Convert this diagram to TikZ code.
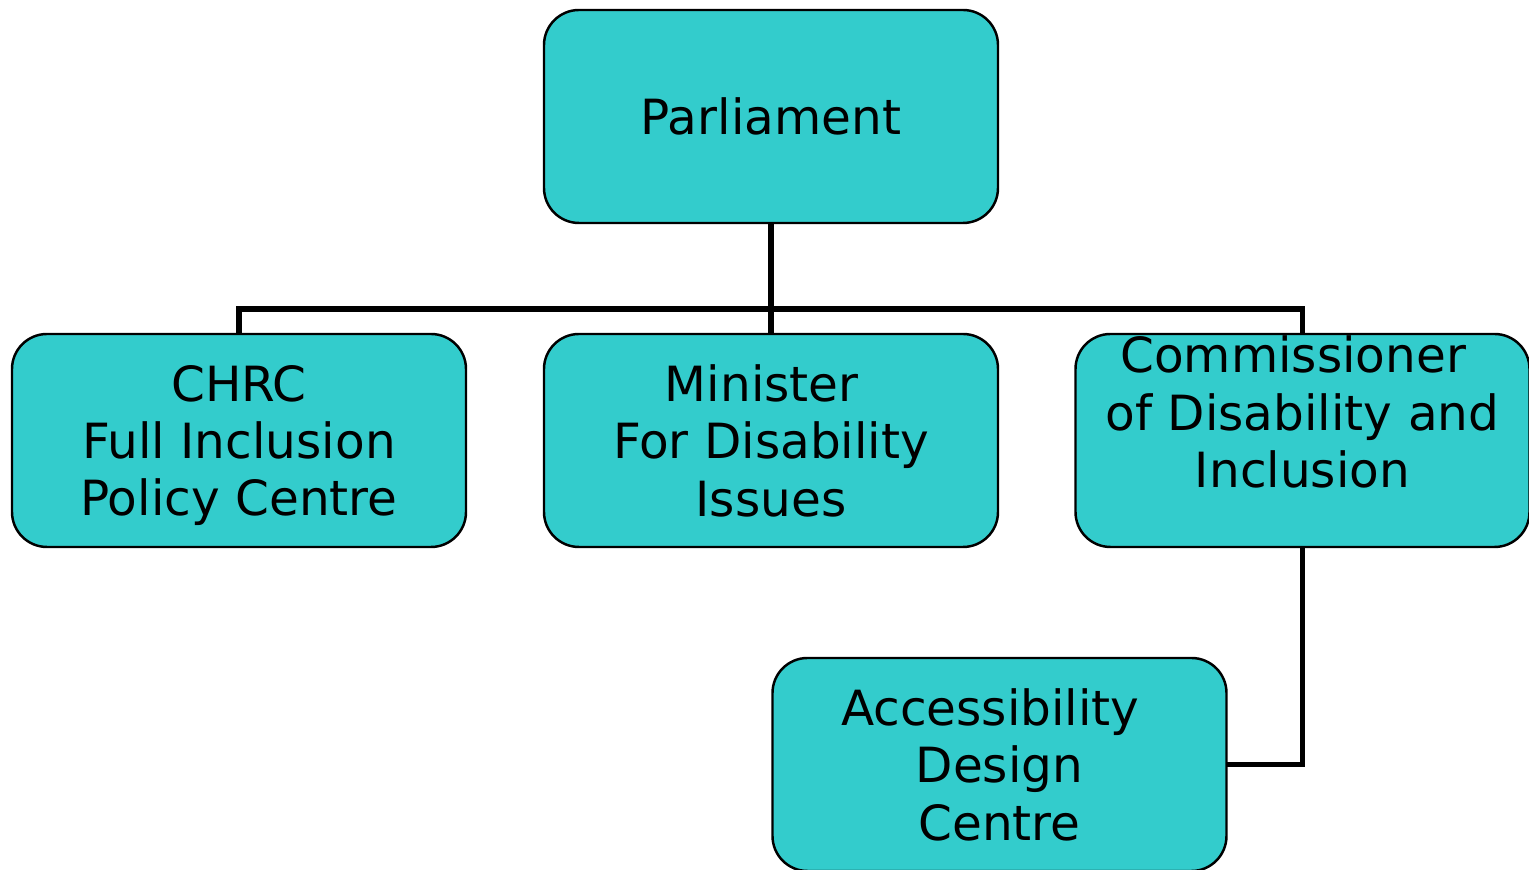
\documentclass[tikz,border=0pt]{standalone}
\usepackage{fontspec}
\setmainfont{DejaVu Sans}
\definecolor{boxteal}{HTML}{33CCCC}
% trailing space kept at the end of a line
\newcommand{\trailsp}{\kern0.38em}

\begin{document}
\begin{tikzpicture}[
	orgbox/.style={draw=black, line width=0.7pt, fill=boxteal, rounded corners=0.35cm,
		minimum width=4.54cm, minimum height=2.13cm, inner sep=0pt, outer sep=0pt,
		align=center, text depth=0pt, font=\fontsize{13.8pt}{16.3pt}\selectfont},
	link/.style={line width=1.5pt}
	]
	% Fix the page size
	\useasboundingbox (0,0) rectangle (15.29,-8.70);
	
	% Draw the boxes
	\node[orgbox] (parl) at (7.71,-1.165) {Parliament};
	\node[orgbox] (chrc) at (2.39,-4.405) {CHRC\\Full Inclusion\\Policy Centre};
	\node[orgbox] (minister) at (7.71,-4.405) {Minister\trailsp\\For Disability\\Issues};
	\node[orgbox] (comm) at (13.025,-4.405) {Commissioner\trailsp\\of Disability and\\Inclusion\\~};
	\node[orgbox] (access) at (9.995,-7.645) {Accessibility\trailsp\\Design\\Centre};
	
	% Junction of the top lines
	\coordinate (bus) at (7.71,-3.09);
	
	% Draw the connectors
	\draw[link] (parl.south) -- (minister.north);
	\draw[link] (chrc.north) |- (bus) -| (comm.north);
	\draw[link] (comm.south) |- (access.east);
	
\end{tikzpicture}
\end{document}
